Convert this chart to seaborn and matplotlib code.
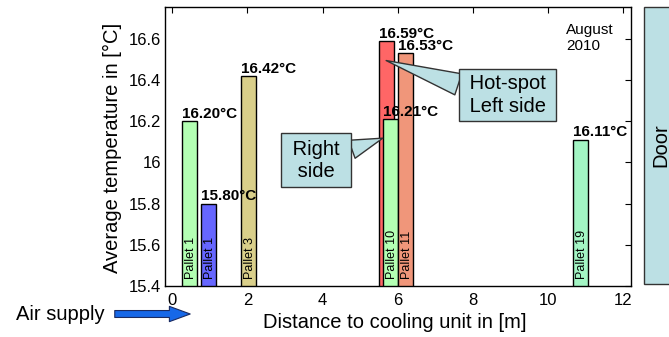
import numpy as np
import pandas as pd
import matplotlib
matplotlib.use("Agg")
import matplotlib.pyplot as plt
from matplotlib.patches import Rectangle, FancyArrowPatch
import seaborn as sns

# ---- data ----
bar_ids = ["p1_green", "p1_blue", "p3", "p10_left", "p10_right", "p11", "p19"]
distance_m = [0.47, 0.96, 2.02, 5.71, 5.81, 6.21, 10.85]
avg_temp = [16.20, 15.80, 16.42, 16.59, 16.21, 16.53, 16.11]
pallet_labels = ["Pallet 1", "Pallet 1", "Pallet 3", "", "Pallet 10", "Pallet 11", "Pallet 19"]
value_labels = ["16.20°C", "15.80°C", "16.42°C", "16.59°C", "16.21°C", "16.53°C", "16.11°C"]
bar_colors = ["#b3ffb3", "#6666ff", "#d9cf8a", "#ff6666", "#b3ffb3", "#f0967a", "#a3f5c4"]
x_ticks = [0, 2, 4, 6, 8, 10, 12]
y_ticks = [15.4, 15.6, 15.8, 16.0, 16.2, 16.4, 16.6]
y_tick_labels = ["15.4", "15.6", "15.8", "16", "16.2", "16.4", "16.6"]

df = pd.DataFrame({"id": bar_ids, "dist": distance_m, "temp": avg_temp})

sns.set_theme(style="white")
plt.rcParams["font.family"] = ["Liberation Sans", "DejaVu Sans"]

W, H = 669, 337
fig = plt.figure(figsize=(W / 100, H / 100), dpi=100)
ax = fig.add_axes([165 / W, 1 - 286 / H, (631 - 165) / W, (286 - 7) / H])

BAR_W = 0.4
sns.barplot(data=df, x="dist", y="temp", hue="id", native_scale=True,
            palette=dict(zip(bar_ids, bar_colors)), dodge=False, legend=False,
            width=BAR_W / 0.1, errorbar=None, edgecolor="black", linewidth=1.0,
            saturation=1, ax=ax)

ax.set_xlim(-0.19, 12.2)
ax.set_ylim(15.4, 16.755)
ax.set_xticks(x_ticks)
ax.set_xticklabels([str(t) for t in x_ticks])
ax.set_yticks(y_ticks)
ax.set_yticklabels(y_tick_labels)
ax.tick_params(direction="in", top=True, right=True, length=4, width=0.8,
               colors="black", labelsize=12)
ax.tick_params(axis="x", pad=5)
ax.tick_params(axis="y", pad=3)
for s in ax.spines.values():
    s.set_color("black")
    s.set_linewidth(1.0)

ax.set_xlabel("Distance to cooling unit in [m]", fontsize=14.5, color="black", va="center")
ax.set_ylabel("Average temperature in [°C]", fontsize=14.5, color="black", va="center")
ax.xaxis.set_label_coords((395 - 165) / 466, (286 - 322) / 279)
ax.yaxis.set_label_coords((112 - 165) / 466, (286 - 147.5) / 279)

# value and pallet labels
for d, t, vl, pl in zip(distance_m, avg_temp, value_labels, pallet_labels):
    ax.annotate(vl, xy=(d - BAR_W / 2, t), xytext=(0, 0.3), textcoords="offset points",
                ha="left", va="bottom", fontsize=11, fontweight="bold", color="black")
    if pl:
        ax.annotate(pl, xy=(d, 15.4), xytext=(1.0, 5), textcoords="offset points",
                    ha="center", va="bottom", rotation=90, fontsize=9, color="black")

box_fc = "#bce0e4"
box_ec = "#333333"
ax.annotate(" Right \n side ", xy=(5.60, 16.118), xytext=(3.83, 16.01),
            ha="center", va="center", fontsize=14.5, color="black", linespacing=1.25,
            bbox=dict(boxstyle="square,pad=0.3", fc=box_fc, ec=box_ec, lw=1),
            arrowprops=dict(arrowstyle="wedge,tail_width=0.95,shrink_factor=0.5",
                            fc=box_fc, ec=box_ec, lw=1, relpos=(1.0, 0.71),
                            shrinkA=0, shrinkB=0))
ax.annotate(" Hot-spot \n Left side ", xy=(5.69, 16.495), xytext=(8.92, 16.328),
            ha="center", va="center", fontsize=14.5, color="black", linespacing=1.25,
            bbox=dict(boxstyle="square,pad=0.25", fc=box_fc, ec=box_ec, lw=1),
            arrowprops=dict(arrowstyle="wedge,tail_width=1.1,shrink_factor=0.5",
                            fc=box_fc, ec=box_ec, lw=1, relpos=(0.0, 0.71),
                            shrinkA=0, shrinkB=0))

ax.text((566 - 165) / 466, (286 - 23) / 279, "August\n2010", transform=ax.transAxes,
        ha="left", va="top", fontsize=11, color="black", linespacing=1.15)

# Door box outside axes
fig.patches.append(Rectangle((644 / W, 1 - 284 / H), 0.1, (284 - 7) / H,
                             transform=fig.transFigure, fc=box_fc, ec=box_ec, lw=1))
fig.text(661 / W, 1 - 145 / H, "Door", rotation=90, ha="center", va="center",
         fontsize=14.5, color="black")

# Air supply
fig.text(16 / W, 1 - 314 / H, "Air supply", ha="left", va="center", fontsize=14.5, color="black")
arr = FancyArrowPatch((112 / W, 1 - 314 / H), (193 / W, 1 - 314 / H),
                      transform=fig.transFigure,
                      arrowstyle="simple,head_length=1.5,head_width=1.1,tail_width=0.5",
                      mutation_scale=10, fc="#1668e8", ec="#1a2a60", lw=0.8)
fig.patches.append(arr)

fig.savefig("out.png", dpi=100)
